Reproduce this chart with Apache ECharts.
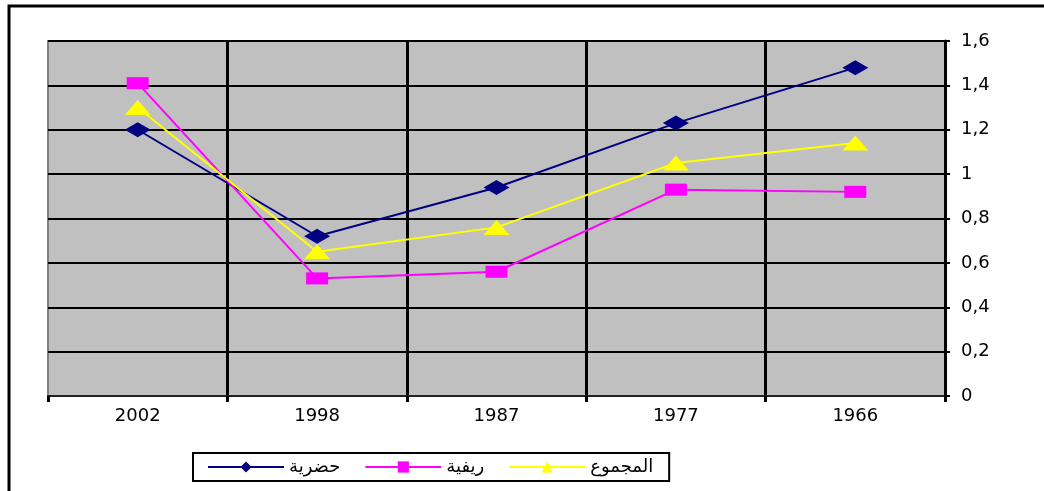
<!DOCTYPE html>
<html>
<head>
<meta charset="utf-8">
<script src="https://cdn.jsdelivr.net/npm/echarts@6/dist/echarts.min.js"></script>
<style>
  html, body { margin: 0; padding: 0; background: #fff; }
  #chart { width: 1044px; height: 491px; }
</style>
</head>
<body>
<div id="chart"></div>
<script>
const years = ['2002', '1998', '1987', '1977', '1966'];
const urban = [1.2, 0.72, 0.94, 1.23, 1.48];
const rural = [1.41, 0.53, 0.56, 0.93, 0.92];
const total = [1.3, 0.65, 0.76, 1.05, 1.14];
const seriesNames = ['حضرية', 'ريفية', 'المجموع'];

const myChart = echarts.init(document.getElementById('chart'));
const font = "'DejaVu Sans', 'Liberation Sans', Arial, sans-serif";

const option = {
  animation: false,
  backgroundColor: '#fff',
  graphic: [
    {
      type: 'rect',
      shape: { x: 9, y: 6, width: 1100, height: 600 },
      style: { fill: 'none', stroke: '#000', lineWidth: 3 },
      z: 100
    }
  ],
  grid: {
    left: 48,
    right: 99,
    top: 41,
    bottom: 95,
    show: true,
    backgroundColor: '#C0C0C0',
    borderColor: '#808080',
    borderWidth: 2
  },
  legend: {
    left: 193,
    top: 453,
    itemWidth: 76,
    itemHeight: 14,
    itemGap: 24,
    padding: [5, 16, 5, 14],
    borderColor: '#000',
    borderWidth: 2,
    textStyle: { fontFamily: font, fontSize: 18, color: '#000' }
  },
  xAxis: {
    type: 'category',
    data: years,
    boundaryGap: true,
    axisLine: { show: true, lineStyle: { color: '#222', width: 2 } },
    axisTick: { show: true, length: 6, lineStyle: { color: '#000', width: 3 } },
    axisLabel: { fontFamily: font, fontSize: 18, color: '#000', margin: 11 },
    splitLine: {
      show: true,
      interval: function (index) { return index !== 0; },
      lineStyle: { color: '#000', width: 3 }
    }
  },
  yAxis: {
    type: 'value',
    position: 'right',
    min: 0,
    max: 1.6,
    interval: 0.2,
    axisLine: { show: true, lineStyle: { color: '#000', width: 3 } },
    axisTick: { show: true, length: 5, lineStyle: { color: '#000', width: 2 } },
    axisLabel: {
      fontFamily: font,
      fontSize: 18,
      color: '#000',
      margin: 16,
      formatter: function (v) { return String(Math.round(v * 10) / 10).replace('.', ','); }
    },
    splitLine: { show: true, lineStyle: { color: '#000', width: 2 } }
  },
  series: [
    {
      name: seriesNames[0],
      type: 'line',
      data: urban,
      symbol: 'diamond',
      symbolSize: [26, 15],
      lineStyle: { color: '#000080', width: 2 },
      itemStyle: { color: '#000080' }
    },
    {
      name: seriesNames[1],
      type: 'line',
      data: rural,
      symbol: 'rect',
      symbolSize: [22, 12],
      lineStyle: { color: '#FF00FF', width: 2 },
      itemStyle: { color: '#FF00FF' }
    },
    {
      name: seriesNames[2],
      type: 'line',
      data: total,
      symbol: 'triangle',
      symbolSize: [26, 15],
      lineStyle: { color: '#FFFF00', width: 2 },
      itemStyle: { color: '#FFFF00' }
    }
  ]
};
myChart.setOption(option);
</script>
</body>
</html>
